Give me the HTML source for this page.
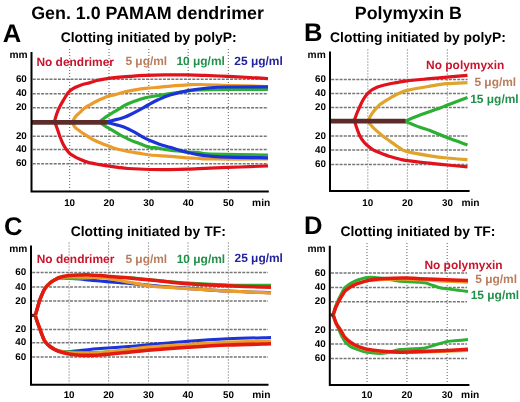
<!DOCTYPE html><html><head><meta charset="utf-8"><style>html,body{margin:0;padding:0;background:#fff;width:520px;height:402px;overflow:hidden;}svg{display:block;filter:blur(0.35px);}text{font-family:"Liberation Sans",sans-serif;font-weight:bold;text-rendering:geometricPrecision;}</style></head><body>
<svg width="520" height="402" viewBox="0 0 520 402">
<rect width="520" height="402" fill="#fff"/>
<line x1="69.60" y1="49.00" x2="69.60" y2="190.60" stroke="#777777" stroke-width="1.2" stroke-dasharray="1.1 1.9"/>
<line x1="109.00" y1="49.00" x2="109.00" y2="190.60" stroke="#777777" stroke-width="1.2" stroke-dasharray="1.1 1.9"/>
<line x1="148.80" y1="49.00" x2="148.80" y2="190.60" stroke="#777777" stroke-width="1.2" stroke-dasharray="1.1 1.9"/>
<line x1="188.20" y1="49.00" x2="188.20" y2="190.60" stroke="#777777" stroke-width="1.2" stroke-dasharray="1.1 1.9"/>
<line x1="228.40" y1="49.00" x2="228.40" y2="190.60" stroke="#777777" stroke-width="1.2" stroke-dasharray="1.1 1.9"/>
<line x1="32.70" y1="79.30" x2="268.00" y2="79.30" stroke="#777777" stroke-width="1.5" stroke-dasharray="3 1.2"/>
<line x1="32.70" y1="93.70" x2="268.00" y2="93.70" stroke="#777777" stroke-width="1.5" stroke-dasharray="3 1.2"/>
<line x1="32.70" y1="107.80" x2="268.00" y2="107.80" stroke="#777777" stroke-width="1.5" stroke-dasharray="3 1.2"/>
<line x1="32.70" y1="136.20" x2="268.00" y2="136.20" stroke="#777777" stroke-width="1.5" stroke-dasharray="3 1.2"/>
<line x1="32.70" y1="149.60" x2="268.00" y2="149.60" stroke="#777777" stroke-width="1.5" stroke-dasharray="3 1.2"/>
<line x1="32.70" y1="163.80" x2="268.00" y2="163.80" stroke="#777777" stroke-width="1.5" stroke-dasharray="3 1.2"/>
<path d="M54.60,121.00 C54.92,119.92 55.73,116.70 56.50,114.50 C57.27,112.30 58.03,110.22 59.20,107.80 C60.37,105.38 62.15,102.33 63.50,100.00 C64.85,97.67 66.22,95.35 67.30,93.80 C68.38,92.25 68.72,91.75 70.00,90.70 C71.28,89.65 73.33,88.38 75.00,87.50 C76.67,86.62 77.50,86.22 80.00,85.40 C82.50,84.58 87.00,83.45 90.00,82.60 C93.00,81.75 94.83,81.02 98.00,80.30 C101.17,79.58 103.67,78.95 109.00,78.30 C114.33,77.65 124.00,76.88 130.00,76.40 C136.00,75.92 139.17,75.65 145.00,75.40 C150.83,75.15 157.83,74.98 165.00,74.90 C172.17,74.82 181.33,74.82 188.00,74.90 C194.67,74.98 198.33,75.15 205.00,75.40 C211.67,75.65 220.50,76.05 228.00,76.40 C235.50,76.75 243.33,77.12 250.00,77.50 C256.67,77.88 265.00,78.50 268.00,78.70" fill="none" stroke="#e0121b" stroke-width="3.20" stroke-linejoin="round" stroke-linecap="butt"/>
<path d="M55.20,123.00 C55.58,124.08 56.73,127.28 57.50,129.50 C58.27,131.72 58.92,133.97 59.80,136.30 C60.68,138.63 61.70,141.30 62.80,143.50 C63.90,145.70 65.20,147.80 66.40,149.50 C67.60,151.20 68.57,152.48 70.00,153.70 C71.43,154.92 73.33,155.88 75.00,156.80 C76.67,157.72 77.83,158.28 80.00,159.20 C82.17,160.12 85.00,161.43 88.00,162.30 C91.00,163.17 94.67,163.80 98.00,164.40 C101.33,165.00 104.67,165.42 108.00,165.90 C111.33,166.38 114.67,166.87 118.00,167.30 C121.33,167.73 122.67,168.13 128.00,168.50 C133.33,168.87 143.00,169.32 150.00,169.50 C157.00,169.68 163.67,169.65 170.00,169.60 C176.33,169.55 181.33,169.45 188.00,169.20 C194.67,168.95 201.33,168.47 210.00,168.10 C218.67,167.73 230.33,167.38 240.00,167.00 C249.67,166.62 263.33,166.00 268.00,165.80" fill="none" stroke="#e0121b" stroke-width="3.20" stroke-linejoin="round" stroke-linecap="butt"/>
<path d="M72.90,121.00 C73.42,120.17 74.82,117.43 76.00,116.00 C77.18,114.57 78.60,113.70 80.00,112.40 C81.40,111.10 82.73,109.47 84.40,108.20 C86.07,106.93 87.65,106.13 90.00,104.80 C92.35,103.47 96.00,101.42 98.50,100.20 C101.00,98.98 103.42,98.17 105.00,97.50 C106.58,96.83 106.33,96.68 108.00,96.20 C109.67,95.72 112.17,95.33 115.00,94.60 C117.83,93.87 121.67,92.58 125.00,91.80 C128.33,91.02 131.17,90.50 135.00,89.90 C138.83,89.30 143.83,88.67 148.00,88.20 C152.17,87.73 155.50,87.52 160.00,87.10 C164.50,86.68 170.33,86.07 175.00,85.70 C179.67,85.33 183.83,85.10 188.00,84.90 C192.17,84.70 192.67,84.40 200.00,84.50 C207.33,84.60 220.67,85.17 232.00,85.50 C243.33,85.83 262.00,86.33 268.00,86.50" fill="none" stroke="#ec9c2a" stroke-width="3.20" stroke-linejoin="round" stroke-linecap="butt"/>
<path d="M72.70,123.00 C73.08,123.70 73.78,125.83 75.00,127.20 C76.22,128.57 78.33,129.95 80.00,131.20 C81.67,132.45 83.33,133.60 85.00,134.70 C86.67,135.80 88.33,136.83 90.00,137.80 C91.67,138.77 93.33,139.67 95.00,140.50 C96.67,141.33 98.33,142.10 100.00,142.80 C101.67,143.50 103.33,144.07 105.00,144.70 C106.67,145.33 107.83,145.83 110.00,146.60 C112.17,147.37 115.00,148.48 118.00,149.30 C121.00,150.12 124.33,150.82 128.00,151.50 C131.67,152.18 136.33,152.82 140.00,153.40 C143.67,153.98 145.00,154.50 150.00,155.00 C155.00,155.50 163.67,155.92 170.00,156.40 C176.33,156.88 183.00,157.57 188.00,157.90 C193.00,158.23 196.33,158.22 200.00,158.40 C203.67,158.58 198.67,158.90 210.00,159.00 C221.33,159.10 258.33,159.00 268.00,159.00" fill="none" stroke="#ec9c2a" stroke-width="3.20" stroke-linejoin="round" stroke-linecap="butt"/>
<path d="M100.50,121.00 C101.25,120.43 103.42,118.72 105.00,117.60 C106.58,116.48 108.33,115.35 110.00,114.30 C111.67,113.25 113.33,112.28 115.00,111.30 C116.67,110.32 118.33,109.40 120.00,108.40 C121.67,107.40 122.50,106.52 125.00,105.30 C127.50,104.08 131.67,102.33 135.00,101.10 C138.33,99.87 140.83,98.87 145.00,97.90 C149.17,96.93 155.83,96.02 160.00,95.30 C164.17,94.58 165.33,94.32 170.00,93.60 C174.67,92.88 183.00,91.60 188.00,91.00 C193.00,90.40 193.33,90.25 200.00,90.00 C206.67,89.75 216.67,89.58 228.00,89.50 C239.33,89.42 261.33,89.50 268.00,89.50" fill="none" stroke="#2bb033" stroke-width="3.20" stroke-linejoin="round" stroke-linecap="butt"/>
<path d="M100.50,122.80 C101.25,123.33 103.42,125.00 105.00,126.00 C106.58,127.00 108.33,127.82 110.00,128.80 C111.67,129.78 113.33,130.88 115.00,131.90 C116.67,132.92 118.33,133.98 120.00,134.90 C121.67,135.82 123.33,136.57 125.00,137.40 C126.67,138.23 128.33,139.15 130.00,139.90 C131.67,140.65 133.33,141.25 135.00,141.90 C136.67,142.55 138.33,143.15 140.00,143.80 C141.67,144.45 143.33,145.22 145.00,145.80 C146.67,146.38 148.33,146.98 150.00,147.30 C151.67,147.62 153.33,147.50 155.00,147.70 C156.67,147.90 157.50,148.08 160.00,148.50 C162.50,148.92 165.33,149.62 170.00,150.20 C174.67,150.78 183.00,151.57 188.00,152.00 C193.00,152.43 196.33,152.47 200.00,152.80 C203.67,153.13 198.67,153.63 210.00,154.00 C221.33,154.37 258.33,154.83 268.00,155.00" fill="none" stroke="#2bb033" stroke-width="3.20" stroke-linejoin="round" stroke-linecap="butt"/>
<path d="M107.00,121.80 C108.33,121.48 112.83,120.42 115.00,119.90 C117.17,119.38 118.33,119.17 120.00,118.70 C121.67,118.23 123.33,117.75 125.00,117.10 C126.67,116.45 127.50,116.05 130.00,114.80 C132.50,113.55 137.00,111.23 140.00,109.60 C143.00,107.97 145.00,106.63 148.00,105.00 C151.00,103.37 154.33,101.47 158.00,99.80 C161.67,98.13 165.00,96.53 170.00,95.00 C175.00,93.47 181.67,91.77 188.00,90.60 C194.33,89.43 201.33,88.60 208.00,88.00 C214.67,87.40 218.00,87.20 228.00,87.00 C238.00,86.80 261.33,86.83 268.00,86.80" fill="none" stroke="#1c33d9" stroke-width="3.20" stroke-linejoin="round" stroke-linecap="butt"/>
<path d="M107.00,122.30 C108.33,122.67 112.83,123.92 115.00,124.50 C117.17,125.08 118.33,125.32 120.00,125.80 C121.67,126.28 123.33,126.72 125.00,127.40 C126.67,128.08 128.33,129.07 130.00,129.90 C131.67,130.73 133.33,131.48 135.00,132.40 C136.67,133.32 138.33,134.43 140.00,135.40 C141.67,136.37 143.33,137.33 145.00,138.20 C146.67,139.07 147.50,139.57 150.00,140.60 C152.50,141.63 156.67,143.28 160.00,144.40 C163.33,145.52 166.67,146.30 170.00,147.30 C173.33,148.30 177.00,149.53 180.00,150.40 C183.00,151.27 184.67,151.75 188.00,152.50 C191.33,153.25 196.33,154.30 200.00,154.90 C203.67,155.50 205.33,155.72 210.00,156.10 C214.67,156.48 218.33,156.92 228.00,157.20 C237.67,157.48 261.33,157.70 268.00,157.80" fill="none" stroke="#1c33d9" stroke-width="3.20" stroke-linejoin="round" stroke-linecap="butt"/>
<line x1="31.50" y1="122.3" x2="107.6" y2="122.3" stroke="#5c2c2a" stroke-width="4.7"/>
<path d="M31.50,52.00 V191.60 H268.80" fill="none" stroke="#000" stroke-width="2"/>
<text x="26.80" y="81.90" font-size="9.80" fill="#000" text-anchor="end">60</text>
<text x="26.80" y="96.30" font-size="9.80" fill="#000" text-anchor="end">40</text>
<text x="26.80" y="110.40" font-size="9.80" fill="#000" text-anchor="end">20</text>
<text x="26.80" y="138.80" font-size="9.80" fill="#000" text-anchor="end">20</text>
<text x="26.80" y="152.20" font-size="9.80" fill="#000" text-anchor="end">40</text>
<text x="26.80" y="166.40" font-size="9.80" fill="#000" text-anchor="end">60</text>
<text x="69.60" y="206.30" font-size="9.80" fill="#000" text-anchor="middle">10</text>
<text x="109.00" y="206.30" font-size="9.80" fill="#000" text-anchor="middle">20</text>
<text x="148.80" y="206.30" font-size="9.80" fill="#000" text-anchor="middle">30</text>
<text x="188.20" y="206.30" font-size="9.80" fill="#000" text-anchor="middle">40</text>
<text x="228.40" y="206.30" font-size="9.80" fill="#000" text-anchor="middle">50</text>
<text x="252.10" y="206.30" font-size="10.20" fill="#000" text-anchor="start">min</text>
<text x="9.40" y="58.10" font-size="10.20" fill="#000" text-anchor="start">mm</text>
<line x1="367.80" y1="49.50" x2="367.80" y2="189.90" stroke="#777777" stroke-width="1.2" stroke-dasharray="1.1 1.9"/>
<line x1="407.50" y1="49.50" x2="407.50" y2="189.90" stroke="#777777" stroke-width="1.2" stroke-dasharray="1.1 1.9"/>
<line x1="447.40" y1="49.50" x2="447.40" y2="189.90" stroke="#777777" stroke-width="1.2" stroke-dasharray="1.1 1.9"/>
<line x1="331.20" y1="79.40" x2="467.50" y2="79.40" stroke="#777777" stroke-width="1.5" stroke-dasharray="3 1.2"/>
<line x1="331.20" y1="93.50" x2="467.50" y2="93.50" stroke="#777777" stroke-width="1.5" stroke-dasharray="3 1.2"/>
<line x1="331.20" y1="107.60" x2="467.50" y2="107.60" stroke="#777777" stroke-width="1.5" stroke-dasharray="3 1.2"/>
<line x1="331.20" y1="136.00" x2="467.50" y2="136.00" stroke="#777777" stroke-width="1.5" stroke-dasharray="3 1.2"/>
<line x1="331.20" y1="150.00" x2="467.50" y2="150.00" stroke="#777777" stroke-width="1.5" stroke-dasharray="3 1.2"/>
<line x1="331.20" y1="164.60" x2="467.50" y2="164.60" stroke="#777777" stroke-width="1.5" stroke-dasharray="3 1.2"/>
<path d="M354.50,120.00 C354.88,118.92 356.00,115.53 356.80,113.50 C357.60,111.47 358.27,110.05 359.30,107.80 C360.33,105.55 361.65,102.33 363.00,100.00 C364.35,97.67 366.07,95.38 367.40,93.80 C368.73,92.22 369.73,91.43 371.00,90.50 C372.27,89.57 373.50,88.90 375.00,88.20 C376.50,87.50 377.50,87.03 380.00,86.30 C382.50,85.57 387.00,84.47 390.00,83.80 C393.00,83.13 395.17,82.80 398.00,82.30 C400.83,81.80 401.67,81.40 407.00,80.80 C412.33,80.20 423.33,79.30 430.00,78.70 C436.67,78.10 440.75,77.77 447.00,77.20 C453.25,76.63 464.08,75.62 467.50,75.30" fill="none" stroke="#e0121b" stroke-width="3.20" stroke-linejoin="round" stroke-linecap="butt"/>
<path d="M355.00,122.50 C355.38,123.67 356.47,127.22 357.30,129.50 C358.13,131.78 358.97,134.20 360.00,136.20 C361.03,138.20 362.27,139.95 363.50,141.50 C364.73,143.05 365.72,144.07 367.40,145.50 C369.08,146.93 371.50,148.88 373.60,150.10 C375.70,151.32 377.27,151.73 380.00,152.80 C382.73,153.87 386.67,155.43 390.00,156.50 C393.33,157.57 397.17,158.52 400.00,159.20 C402.83,159.88 402.00,159.93 407.00,160.60 C412.00,161.27 423.33,162.47 430.00,163.20 C436.67,163.93 440.75,164.40 447.00,165.00 C453.25,165.60 464.08,166.50 467.50,166.80" fill="none" stroke="#e0121b" stroke-width="3.20" stroke-linejoin="round" stroke-linecap="butt"/>
<path d="M368.20,120.50 C368.58,119.75 369.62,117.50 370.50,116.00 C371.38,114.50 372.47,112.87 373.50,111.50 C374.53,110.13 375.62,108.95 376.70,107.80 C377.78,106.65 378.62,105.70 380.00,104.60 C381.38,103.50 383.33,102.28 385.00,101.20 C386.67,100.12 387.83,99.33 390.00,98.10 C392.17,96.87 395.17,95.08 398.00,93.80 C400.83,92.52 401.67,91.67 407.00,90.40 C412.33,89.13 423.33,87.32 430.00,86.20 C436.67,85.08 440.75,84.28 447.00,83.70 C453.25,83.12 464.08,82.87 467.50,82.70" fill="none" stroke="#dfa42c" stroke-width="3.20" stroke-linejoin="round" stroke-linecap="butt"/>
<path d="M368.40,121.70 C368.92,122.37 370.40,124.43 371.50,125.70 C372.60,126.97 373.58,127.97 375.00,129.30 C376.42,130.63 378.67,132.55 380.00,133.70 C381.33,134.85 381.33,134.97 383.00,136.20 C384.67,137.43 387.17,139.10 390.00,141.10 C392.83,143.10 397.17,146.45 400.00,148.20 C402.83,149.95 402.00,150.33 407.00,151.60 C412.00,152.87 423.33,154.73 430.00,155.80 C436.67,156.87 440.75,157.37 447.00,158.00 C453.25,158.63 464.08,159.33 467.50,159.60" fill="none" stroke="#dfa42c" stroke-width="3.20" stroke-linejoin="round" stroke-linecap="butt"/>
<path d="M405.50,121.00 C407.92,120.00 414.25,117.17 420.00,115.00 C425.75,112.83 435.50,109.62 440.00,108.00 C444.50,106.38 442.42,107.03 447.00,105.30 C451.58,103.57 464.08,98.88 467.50,97.60" fill="none" stroke="#2bb033" stroke-width="3.20" stroke-linejoin="round" stroke-linecap="butt"/>
<path d="M405.50,121.50 C407.92,122.47 415.92,125.78 420.00,127.30 C424.08,128.82 425.50,128.88 430.00,130.60 C434.50,132.32 440.75,135.20 447.00,137.60 C453.25,140.00 464.08,143.77 467.50,145.00" fill="none" stroke="#2bb033" stroke-width="3.20" stroke-linejoin="round" stroke-linecap="butt"/>
<line x1="330.00" y1="121.1" x2="405.6" y2="121.1" stroke="#5c2c2a" stroke-width="4.9"/>
<path d="M330.00,51.60 V190.90 H469.60" fill="none" stroke="#000" stroke-width="2"/>
<text x="325.90" y="82.00" font-size="9.80" fill="#000" text-anchor="end">60</text>
<text x="325.90" y="96.10" font-size="9.80" fill="#000" text-anchor="end">40</text>
<text x="325.90" y="110.20" font-size="9.80" fill="#000" text-anchor="end">20</text>
<text x="325.90" y="138.60" font-size="9.80" fill="#000" text-anchor="end">20</text>
<text x="325.90" y="152.60" font-size="9.80" fill="#000" text-anchor="end">40</text>
<text x="325.90" y="167.20" font-size="9.80" fill="#000" text-anchor="end">60</text>
<text x="367.80" y="205.80" font-size="9.80" fill="#000" text-anchor="middle">10</text>
<text x="407.50" y="205.80" font-size="9.80" fill="#000" text-anchor="middle">20</text>
<text x="447.40" y="205.80" font-size="9.80" fill="#000" text-anchor="middle">30</text>
<text x="461.40" y="205.80" font-size="10.20" fill="#000" text-anchor="start">min</text>
<text x="307.60" y="57.90" font-size="10.20" fill="#000" text-anchor="start">mm</text>
<line x1="69.10" y1="242.50" x2="69.10" y2="383.70" stroke="#777777" stroke-width="1.2" stroke-dasharray="1.1 1.9"/>
<line x1="108.60" y1="242.50" x2="108.60" y2="383.70" stroke="#777777" stroke-width="1.2" stroke-dasharray="1.1 1.9"/>
<line x1="148.50" y1="242.50" x2="148.50" y2="383.70" stroke="#777777" stroke-width="1.2" stroke-dasharray="1.1 1.9"/>
<line x1="188.00" y1="242.50" x2="188.00" y2="383.70" stroke="#777777" stroke-width="1.2" stroke-dasharray="1.1 1.9"/>
<line x1="228.40" y1="242.50" x2="228.40" y2="383.70" stroke="#777777" stroke-width="1.2" stroke-dasharray="1.1 1.9"/>
<line x1="32.20" y1="272.60" x2="268.00" y2="272.60" stroke="#777777" stroke-width="1.5" stroke-dasharray="3 1.2"/>
<line x1="32.20" y1="286.90" x2="268.00" y2="286.90" stroke="#777777" stroke-width="1.5" stroke-dasharray="3 1.2"/>
<line x1="32.20" y1="301.10" x2="268.00" y2="301.10" stroke="#777777" stroke-width="1.5" stroke-dasharray="3 1.2"/>
<line x1="32.20" y1="329.60" x2="268.00" y2="329.60" stroke="#777777" stroke-width="1.5" stroke-dasharray="3 1.2"/>
<line x1="32.20" y1="342.70" x2="268.00" y2="342.70" stroke="#777777" stroke-width="1.5" stroke-dasharray="3 1.2"/>
<line x1="32.20" y1="357.10" x2="268.00" y2="357.10" stroke="#777777" stroke-width="1.5" stroke-dasharray="3 1.2"/>
<path d="M35.30,315.80 C35.67,316.92 36.70,320.20 37.50,322.50 C38.30,324.80 39.27,327.35 40.10,329.60 C40.93,331.85 41.68,334.02 42.50,336.00 C43.32,337.98 43.75,339.75 45.00,341.50 C46.25,343.25 48.33,345.15 50.00,346.50 C51.67,347.85 53.33,348.80 55.00,349.60 C56.67,350.40 57.67,350.97 60.00,351.30 C62.33,351.63 65.67,351.72 69.00,351.60 C72.33,351.48 76.50,350.97 80.00,350.60 C83.50,350.23 86.67,349.73 90.00,349.40 C93.33,349.07 94.17,349.03 100.00,348.60 C105.83,348.17 117.00,347.43 125.00,346.80 C133.00,346.17 137.50,345.72 148.00,344.80 C158.50,343.88 174.67,342.30 188.00,341.30 C201.33,340.30 214.17,339.45 228.00,338.80 C241.83,338.15 263.83,337.63 271.00,337.40" fill="none" stroke="#1c33d9" stroke-width="3.00" stroke-linejoin="round" stroke-linecap="butt"/>
<path d="M35.30,315.80 C35.67,316.92 36.70,320.20 37.50,322.50 C38.30,324.80 39.27,327.35 40.10,329.60 C40.93,331.85 41.68,334.02 42.50,336.00 C43.32,337.98 43.75,339.75 45.00,341.50 C46.25,343.25 48.33,345.15 50.00,346.50 C51.67,347.85 53.33,348.77 55.00,349.60 C56.67,350.43 57.67,351.13 60.00,351.50 C62.33,351.87 65.67,351.67 69.00,351.80 C72.33,351.93 74.83,352.22 80.00,352.30 C85.17,352.38 88.67,352.93 100.00,352.30 C111.33,351.67 133.33,349.63 148.00,348.50 C162.67,347.37 174.67,346.33 188.00,345.50 C201.33,344.67 214.17,344.08 228.00,343.50 C241.83,342.92 263.83,342.25 271.00,342.00" fill="none" stroke="#2bb033" stroke-width="3.00" stroke-linejoin="round" stroke-linecap="butt"/>
<path d="M35.30,315.80 C35.67,316.92 36.70,320.20 37.50,322.50 C38.30,324.80 39.27,327.35 40.10,329.60 C40.93,331.85 41.68,334.02 42.50,336.00 C43.32,337.98 43.75,339.75 45.00,341.50 C46.25,343.25 48.33,345.15 50.00,346.50 C51.67,347.85 53.33,348.85 55.00,349.60 C56.67,350.35 57.67,350.52 60.00,351.00 C62.33,351.48 65.67,352.13 69.00,352.50 C72.33,352.87 74.83,353.18 80.00,353.20 C85.17,353.22 92.50,353.13 100.00,352.60 C107.50,352.07 117.00,350.90 125.00,350.00 C133.00,349.10 137.50,348.12 148.00,347.20 C158.50,346.28 174.67,345.33 188.00,344.50 C201.33,343.67 214.17,342.75 228.00,342.20 C241.83,341.65 263.83,341.37 271.00,341.20" fill="none" stroke="#ec9c2a" stroke-width="3.20" stroke-linejoin="round" stroke-linecap="butt"/>
<path d="M35.30,315.80 C35.67,316.92 36.70,320.20 37.50,322.50 C38.30,324.80 39.27,327.35 40.10,329.60 C40.93,331.85 41.68,334.02 42.50,336.00 C43.32,337.98 43.75,339.75 45.00,341.50 C46.25,343.25 48.33,345.15 50.00,346.50 C51.67,347.85 53.33,348.72 55.00,349.60 C56.67,350.48 57.67,351.08 60.00,351.80 C62.33,352.52 65.67,353.33 69.00,353.90 C72.33,354.47 76.50,354.95 80.00,355.20 C83.50,355.45 86.67,355.43 90.00,355.40 C93.33,355.37 94.17,355.47 100.00,355.00 C105.83,354.53 117.00,353.40 125.00,352.60 C133.00,351.80 137.50,351.08 148.00,350.20 C158.50,349.32 174.67,348.17 188.00,347.30 C201.33,346.43 214.17,345.58 228.00,345.00 C241.83,344.42 263.83,344.00 271.00,343.80" fill="none" stroke="#e31a10" stroke-width="3.60" stroke-linejoin="round" stroke-linecap="butt"/>
<path d="M35.30,315.20 C35.63,314.08 36.62,310.85 37.30,308.50 C37.98,306.15 38.62,303.43 39.40,301.10 C40.18,298.77 41.07,296.60 42.00,294.50 C42.93,292.40 43.67,290.42 45.00,288.50 C46.33,286.58 48.33,284.47 50.00,283.00 C51.67,281.53 53.33,280.57 55.00,279.70 C56.67,278.83 57.67,278.12 60.00,277.80 C62.33,277.48 66.17,277.65 69.00,277.80 C71.83,277.95 74.33,278.40 77.00,278.70 C79.67,279.00 81.17,279.22 85.00,279.60 C88.83,279.98 95.83,280.62 100.00,281.00 C104.17,281.38 107.00,281.65 110.00,281.90 C113.00,282.15 115.50,282.32 118.00,282.50 C120.50,282.68 120.00,282.55 125.00,283.00 C130.00,283.45 142.17,284.65 148.00,285.20 C153.83,285.75 153.33,285.78 160.00,286.30 C166.67,286.82 176.67,287.52 188.00,288.30 C199.33,289.08 214.17,290.27 228.00,291.00 C241.83,291.73 263.83,292.42 271.00,292.70" fill="none" stroke="#1c33d9" stroke-width="3.20" stroke-linejoin="round" stroke-linecap="butt"/>
<path d="M35.30,315.20 C35.63,314.08 36.62,310.85 37.30,308.50 C37.98,306.15 38.62,303.43 39.40,301.10 C40.18,298.77 41.07,296.60 42.00,294.50 C42.93,292.40 43.67,290.42 45.00,288.50 C46.33,286.58 48.33,284.47 50.00,283.00 C51.67,281.53 53.33,280.55 55.00,279.70 C56.67,278.85 57.67,278.08 60.00,277.90 C62.33,277.72 65.67,278.48 69.00,278.60 C72.33,278.72 74.83,278.78 80.00,278.60 C85.17,278.42 91.67,277.63 100.00,277.50 C108.33,277.37 122.00,277.45 130.00,277.80 C138.00,278.15 138.33,278.73 148.00,279.60 C157.67,280.47 174.67,282.10 188.00,283.00 C201.33,283.90 217.67,284.63 228.00,285.00 C238.33,285.37 242.83,285.15 250.00,285.20 C257.17,285.25 267.50,285.28 271.00,285.30" fill="none" stroke="#2bb033" stroke-width="3.00" stroke-linejoin="round" stroke-linecap="butt"/>
<path d="M35.30,315.20 C35.63,314.08 36.62,310.85 37.30,308.50 C37.98,306.15 38.62,303.43 39.40,301.10 C40.18,298.77 41.07,296.60 42.00,294.50 C42.93,292.40 43.67,290.42 45.00,288.50 C46.33,286.58 48.33,284.47 50.00,283.00 C51.67,281.53 53.33,280.60 55.00,279.70 C56.67,278.80 57.67,278.08 60.00,277.60 C62.33,277.12 65.67,276.90 69.00,276.80 C72.33,276.70 74.83,276.87 80.00,277.00 C85.17,277.13 94.17,277.18 100.00,277.60 C105.83,278.02 110.83,278.85 115.00,279.50 C119.17,280.15 119.50,280.48 125.00,281.50 C130.50,282.52 142.17,284.72 148.00,285.60 C153.83,286.48 153.33,286.30 160.00,286.80 C166.67,287.30 176.67,287.87 188.00,288.60 C199.33,289.33 214.17,290.48 228.00,291.20 C241.83,291.92 263.83,292.62 271.00,292.90" fill="none" stroke="#ec9c2a" stroke-width="3.30" stroke-linejoin="round" stroke-linecap="butt"/>
<path d="M35.30,315.20 C35.63,314.08 36.62,310.85 37.30,308.50 C37.98,306.15 38.62,303.43 39.40,301.10 C40.18,298.77 41.07,296.60 42.00,294.50 C42.93,292.40 43.67,290.42 45.00,288.50 C46.33,286.58 48.33,284.47 50.00,283.00 C51.67,281.53 53.33,280.65 55.00,279.70 C56.67,278.75 57.67,277.98 60.00,277.30 C62.33,276.62 65.67,275.98 69.00,275.60 C72.33,275.22 76.50,275.12 80.00,275.00 C83.50,274.88 86.67,274.80 90.00,274.90 C93.33,275.00 96.67,275.35 100.00,275.60 C103.33,275.85 105.83,276.07 110.00,276.40 C114.17,276.73 118.67,277.03 125.00,277.60 C131.33,278.17 142.17,279.25 148.00,279.80 C153.83,280.35 153.33,280.25 160.00,280.90 C166.67,281.55 176.67,282.88 188.00,283.70 C199.33,284.52 214.17,285.20 228.00,285.80 C241.83,286.40 263.83,287.05 271.00,287.30" fill="none" stroke="#e31a10" stroke-width="3.50" stroke-linejoin="round" stroke-linecap="butt"/>
<rect x="31.5" y="313.8" width="3.3" height="3.2" fill="#5c2c2a"/>
<path d="M31.00,245.40 V384.70 H268.50" fill="none" stroke="#000" stroke-width="2"/>
<text x="26.20" y="275.20" font-size="9.80" fill="#000" text-anchor="end">60</text>
<text x="26.20" y="289.50" font-size="9.80" fill="#000" text-anchor="end">40</text>
<text x="26.20" y="303.70" font-size="9.80" fill="#000" text-anchor="end">20</text>
<text x="26.20" y="332.20" font-size="9.80" fill="#000" text-anchor="end">20</text>
<text x="26.20" y="345.30" font-size="9.80" fill="#000" text-anchor="end">40</text>
<text x="26.20" y="359.70" font-size="9.80" fill="#000" text-anchor="end">60</text>
<text x="69.10" y="397.70" font-size="9.80" fill="#000" text-anchor="middle">10</text>
<text x="108.60" y="397.70" font-size="9.80" fill="#000" text-anchor="middle">20</text>
<text x="148.50" y="397.70" font-size="9.80" fill="#000" text-anchor="middle">30</text>
<text x="188.00" y="397.70" font-size="9.80" fill="#000" text-anchor="middle">40</text>
<text x="228.40" y="397.70" font-size="9.80" fill="#000" text-anchor="middle">50</text>
<text x="252.30" y="397.70" font-size="10.20" fill="#000" text-anchor="start">min</text>
<text x="9.30" y="251.60" font-size="10.20" fill="#000" text-anchor="start">mm</text>
<line x1="367.00" y1="243.00" x2="367.00" y2="384.00" stroke="#777777" stroke-width="1.2" stroke-dasharray="1.1 1.9"/>
<line x1="406.90" y1="243.00" x2="406.90" y2="384.00" stroke="#777777" stroke-width="1.2" stroke-dasharray="1.1 1.9"/>
<line x1="447.20" y1="243.00" x2="447.20" y2="384.00" stroke="#777777" stroke-width="1.2" stroke-dasharray="1.1 1.9"/>
<line x1="331.00" y1="273.10" x2="467.00" y2="273.10" stroke="#777777" stroke-width="1.5" stroke-dasharray="3 1.2"/>
<line x1="331.00" y1="287.40" x2="467.00" y2="287.40" stroke="#777777" stroke-width="1.5" stroke-dasharray="3 1.2"/>
<line x1="331.00" y1="301.70" x2="467.00" y2="301.70" stroke="#777777" stroke-width="1.5" stroke-dasharray="3 1.2"/>
<line x1="331.00" y1="330.00" x2="467.00" y2="330.00" stroke="#777777" stroke-width="1.5" stroke-dasharray="3 1.2"/>
<line x1="331.00" y1="344.00" x2="467.00" y2="344.00" stroke="#777777" stroke-width="1.5" stroke-dasharray="3 1.2"/>
<line x1="331.00" y1="358.60" x2="467.00" y2="358.60" stroke="#777777" stroke-width="1.5" stroke-dasharray="3 1.2"/>
<path d="M333.30,314.70 C333.62,313.50 334.45,309.78 335.20,307.50 C335.95,305.22 337.00,302.83 337.80,301.00 C338.60,299.17 339.30,297.92 340.00,296.50 C340.70,295.08 341.17,294.00 342.00,292.50 C342.83,291.00 343.67,288.95 345.00,287.50 C346.33,286.05 348.33,284.88 350.00,283.80 C351.67,282.72 353.33,281.77 355.00,281.00 C356.67,280.23 358.00,279.80 360.00,279.20 C362.00,278.60 364.50,277.70 367.00,277.40 C369.50,277.10 372.00,277.20 375.00,277.40 C378.00,277.60 381.67,278.10 385.00,278.60 C388.33,279.10 391.67,279.92 395.00,280.40 C398.33,280.88 400.83,281.18 405.00,281.50 C409.17,281.82 416.67,282.08 420.00,282.30 C423.33,282.52 423.33,282.45 425.00,282.80 C426.67,283.15 427.50,283.57 430.00,284.40 C432.50,285.23 437.17,287.07 440.00,287.80 C442.83,288.53 444.00,288.40 447.00,288.80 C450.00,289.20 454.50,289.75 458.00,290.20 C461.50,290.65 466.33,291.28 468.00,291.50" fill="none" stroke="#2bb033" stroke-width="3.00" stroke-linejoin="round" stroke-linecap="butt"/>
<path d="M333.30,314.70 C333.67,313.58 334.65,310.15 335.50,308.00 C336.35,305.85 337.57,303.47 338.40,301.80 C339.23,300.13 339.83,299.13 340.50,298.00 C341.17,296.87 341.65,296.25 342.40,295.00 C343.15,293.75 343.73,291.83 345.00,290.50 C346.27,289.17 348.33,288.03 350.00,287.00 C351.67,285.97 353.33,285.03 355.00,284.30 C356.67,283.57 358.00,283.15 360.00,282.60 C362.00,282.05 364.50,281.40 367.00,281.00 C369.50,280.60 372.00,280.45 375.00,280.20 C378.00,279.95 380.00,279.65 385.00,279.50 C390.00,279.35 394.67,279.02 405.00,279.30 C415.33,279.58 436.50,280.72 447.00,281.20 C457.50,281.68 464.50,282.03 468.00,282.20" fill="none" stroke="#ec9c2a" stroke-width="3.00" stroke-linejoin="round" stroke-linecap="butt"/>
<path d="M333.30,314.70 C333.67,313.58 334.65,310.15 335.50,308.00 C336.35,305.85 337.57,303.47 338.40,301.80 C339.23,300.13 339.83,299.13 340.50,298.00 C341.17,296.87 341.65,296.17 342.40,295.00 C343.15,293.83 343.73,292.30 345.00,291.00 C346.27,289.70 348.33,288.27 350.00,287.20 C351.67,286.13 353.33,285.33 355.00,284.60 C356.67,283.87 358.00,283.47 360.00,282.80 C362.00,282.13 364.50,281.18 367.00,280.60 C369.50,280.02 372.00,279.67 375.00,279.30 C378.00,278.93 380.00,278.62 385.00,278.40 C390.00,278.18 399.17,277.95 405.00,278.00 C410.83,278.05 413.00,278.40 420.00,278.70 C427.00,279.00 439.00,279.48 447.00,279.80 C455.00,280.12 464.50,280.47 468.00,280.60" fill="none" stroke="#e31a10" stroke-width="3.50" stroke-linejoin="round" stroke-linecap="butt"/>
<path d="M333.30,315.30 C333.75,316.58 335.05,320.55 336.00,323.00 C336.95,325.45 338.17,328.08 339.00,330.00 C339.83,331.92 340.50,333.42 341.00,334.50 C341.50,335.58 341.33,335.33 342.00,336.50 C342.67,337.67 343.67,339.88 345.00,341.50 C346.33,343.12 348.33,345.03 350.00,346.20 C351.67,347.37 353.33,347.80 355.00,348.50 C356.67,349.20 358.00,349.77 360.00,350.40 C362.00,351.03 363.67,351.80 367.00,352.30 C370.33,352.80 376.50,353.37 380.00,353.40 C383.50,353.43 384.67,353.13 388.00,352.50 C391.33,351.87 394.67,350.28 400.00,349.60 C405.33,348.92 415.83,348.67 420.00,348.40 C424.17,348.13 422.50,348.57 425.00,348.00 C427.50,347.43 431.33,346.07 435.00,345.00 C438.67,343.93 443.17,342.35 447.00,341.60 C450.83,340.85 454.50,340.83 458.00,340.50 C461.50,340.17 466.33,339.75 468.00,339.60" fill="none" stroke="#2bb033" stroke-width="3.00" stroke-linejoin="round" stroke-linecap="butt"/>
<path d="M333.30,315.30 C333.75,316.58 334.82,320.55 336.00,323.00 C337.18,325.45 339.23,328.03 340.40,330.00 C341.57,331.97 342.23,333.43 343.00,334.80 C343.77,336.17 343.83,336.92 345.00,338.20 C346.17,339.48 348.33,341.28 350.00,342.50 C351.67,343.72 353.33,344.62 355.00,345.50 C356.67,346.38 358.00,347.08 360.00,347.80 C362.00,348.52 363.67,349.17 367.00,349.80 C370.33,350.43 374.50,351.13 380.00,351.60 C385.50,352.07 388.83,352.67 400.00,352.60 C411.17,352.53 435.67,351.53 447.00,351.20 C458.33,350.87 464.50,350.70 468.00,350.60" fill="none" stroke="#ec9c2a" stroke-width="3.00" stroke-linejoin="round" stroke-linecap="butt"/>
<path d="M333.30,315.30 C333.75,316.58 334.82,320.55 336.00,323.00 C337.18,325.45 339.23,328.08 340.40,330.00 C341.57,331.92 342.23,333.25 343.00,334.50 C343.77,335.75 343.83,336.25 345.00,337.50 C346.17,338.75 348.33,340.75 350.00,342.00 C351.67,343.25 353.33,344.13 355.00,345.00 C356.67,345.87 358.00,346.50 360.00,347.20 C362.00,347.90 363.67,348.57 367.00,349.20 C370.33,349.83 374.50,350.50 380.00,351.00 C385.50,351.50 393.33,352.10 400.00,352.20 C406.67,352.30 412.17,351.90 420.00,351.60 C427.83,351.30 439.00,350.78 447.00,350.40 C455.00,350.02 464.50,349.48 468.00,349.30" fill="none" stroke="#e31a10" stroke-width="3.50" stroke-linejoin="round" stroke-linecap="butt"/>
<rect x="330.5" y="313.4" width="3" height="3.2" fill="#5c2c2a"/>
<path d="M329.80,245.80 V385.00 H469.40" fill="none" stroke="#000" stroke-width="2"/>
<text x="325.70" y="275.70" font-size="9.80" fill="#000" text-anchor="end">60</text>
<text x="325.70" y="290.00" font-size="9.80" fill="#000" text-anchor="end">40</text>
<text x="325.70" y="304.30" font-size="9.80" fill="#000" text-anchor="end">20</text>
<text x="325.70" y="332.60" font-size="9.80" fill="#000" text-anchor="end">20</text>
<text x="325.70" y="346.60" font-size="9.80" fill="#000" text-anchor="end">40</text>
<text x="325.70" y="361.20" font-size="9.80" fill="#000" text-anchor="end">60</text>
<text x="367.00" y="397.90" font-size="9.80" fill="#000" text-anchor="middle">10</text>
<text x="406.90" y="397.90" font-size="9.80" fill="#000" text-anchor="middle">20</text>
<text x="447.20" y="397.90" font-size="9.80" fill="#000" text-anchor="middle">30</text>
<text x="461.10" y="397.90" font-size="10.20" fill="#000" text-anchor="start">min</text>
<text x="307.40" y="251.60" font-size="10.20" fill="#000" text-anchor="start">mm</text>
<text x="31.20" y="19.00" font-size="17.85" fill="#000" text-anchor="start">Gen. 1.0 PAMAM dendrimer</text>
<text x="354.80" y="19.00" font-size="17.85" fill="#000" text-anchor="start">Polymyxin B</text>
<text x="2.70" y="41.50" font-size="25.60" fill="#000" text-anchor="start">A</text>
<text x="303.90" y="40.90" font-size="25.60" fill="#000" text-anchor="start">B</text>
<text x="3.90" y="234.60" font-size="25.60" fill="#000" text-anchor="start">C</text>
<text x="304.10" y="233.70" font-size="25.60" fill="#000" text-anchor="start">D</text>
<text x="60.70" y="41.60" font-size="13.90" fill="#000" text-anchor="start">Clotting initiated by polyP:</text>
<text x="330.00" y="41.50" font-size="13.90" fill="#000" text-anchor="start">Clotting initiated by polyP:</text>
<text x="70.70" y="235.60" font-size="13.90" fill="#000" text-anchor="start">Clotting initiated by TF:</text>
<text x="340.40" y="235.60" font-size="13.90" fill="#000" text-anchor="start">Clotting initiated by TF:</text>
<text x="36.40" y="66.10" font-size="11.95" fill="#c8142c" text-anchor="start">No dendrimer</text>
<text x="125.40" y="64.80" font-size="11.95" fill="#b97c5c" text-anchor="start">5 μg/ml</text>
<text x="176.40" y="64.90" font-size="11.95" fill="#22904a" text-anchor="start">10 μg/ml</text>
<text x="234.30" y="64.90" font-size="11.95" fill="#22229e" text-anchor="start">25 μg/ml</text>
<text x="36.70" y="263.30" font-size="11.95" fill="#c8142c" text-anchor="start">No dendrimer</text>
<text x="125.40" y="262.50" font-size="11.95" fill="#b97c5c" text-anchor="start">5 μg/ml</text>
<text x="176.70" y="262.50" font-size="11.95" fill="#22904a" text-anchor="start">10 μg/ml</text>
<text x="234.50" y="262.20" font-size="11.95" fill="#22229e" text-anchor="start">25 μg/ml</text>
<text x="426.10" y="68.60" font-size="11.95" fill="#c8142c" text-anchor="start">No polymyxin</text>
<text x="474.40" y="86.40" font-size="11.95" fill="#b97c5c" text-anchor="start">5 μg/ml</text>
<text x="470.20" y="102.80" font-size="11.95" fill="#22904a" text-anchor="start">15 μg/ml</text>
<text x="424.40" y="269.40" font-size="11.95" fill="#c8142c" text-anchor="start">No polymyxin</text>
<text x="475.20" y="283.30" font-size="11.95" fill="#b97c5c" text-anchor="start">5 μg/ml</text>
<text x="470.70" y="299.10" font-size="11.95" fill="#22904a" text-anchor="start">15 μg/ml</text>
</svg></body></html>
